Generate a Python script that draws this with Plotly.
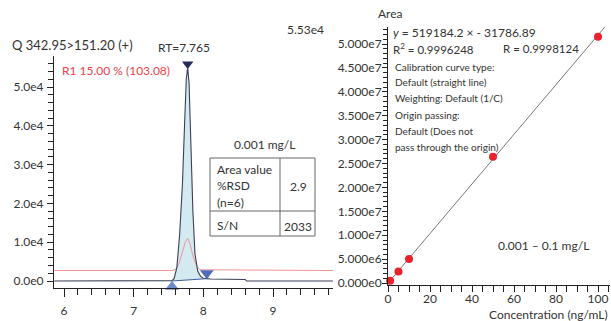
import plotly.graph_objects as go

W, H = 611, 321
FONT = "Lato"
TXT = "#333333"

# ---------------- data: chromatogram (left) ----------------
chrom_t = [5.86, 7.50, 7.55, 7.58, 7.62, 7.66, 7.70, 7.73, 7.755, 7.775, 7.795,
           7.82, 7.85, 7.88, 7.92, 7.96, 8.00, 8.05, 8.10, 8.60, 8.62, 9.86]
chrom_i = [0, 0, 100, 600, 3500, 12000, 25000, 40000, 52000, 55000, 51000,
           36000, 18000, 7000, 2500, 1200, 700, 600, 500, 400, 0, 0]

ref_t = [5.86, 7.55, 7.60, 7.65, 7.70, 7.74, 7.775, 7.81, 7.85, 7.90, 7.95, 9.86]
ref_i = [2700, 2700, 3000, 4500, 7500, 10000, 11000, 9500, 6500, 4000, 2900, 2700]

base_t = [7.55, 8.05]
base_i = [0, 600]

apex_t, apex_i = [7.775], [55900]
start_t, start_i = [7.55], [-1500]
end_t, end_i = [8.05], [2000]

left_ytick_vals = [0, 10000, 20000, 30000, 40000, 50000]
left_ytick_text = ["0.0e0", "1.0e4", "2.0e4", "3.0e4", "4.0e4", "5.0e4"]
left_xtick_vals = [6, 7, 8, 9]

# ---------------- data: calibration (right) ----------------
conc = [1, 5, 10, 50, 100]
area = [0.49e6, 2.4e6, 5.05e6, 2.64e7, 5.15e7]
slope, intercept = 519184.2, -31786.89
fit_x = [0, 105.7]

right_ytick_vals = [0, 5e6, 1e7, 1.5e7, 2e7, 2.5e7, 3e7, 3.5e7, 4e7, 4.5e7, 5e7]
right_ytick_text = ["0.000e0", "5.000e6", "1.000e7", "1.500e7", "2.000e7", "2.500e7",
                    "3.000e7", "3.500e7", "4.000e7", "4.500e7", "5.000e7"]
right_xtick_vals = [0, 20, 40, 60, 80, 100]

# ---------------- figure ----------------
fig = go.Figure()

# filled peak area between trace and baseline
peak_seg = [(t, i) for t, i in zip(chrom_t, chrom_i) if base_t[0] <= t <= base_t[1]]
poly_t = [p[0] for p in peak_seg] + base_t[::-1]
poly_i = [p[1] for p in peak_seg] + base_i[::-1]
fig.add_trace(go.Scatter(x=poly_t, y=poly_i, fill="toself", fillcolor="#d3eaf1",
                         line=dict(width=0), mode="lines", hoverinfo="skip",
                         xaxis="x", yaxis="y"))
fig.add_trace(go.Scatter(x=ref_t, y=ref_i, mode="lines",
                         line=dict(color="#f29494", width=1), xaxis="x", yaxis="y"))
fig.add_trace(go.Scatter(x=chrom_t, y=chrom_i, mode="lines",
                         line=dict(color="#3a3f55", width=1.1), xaxis="x", yaxis="y"))
fig.add_trace(go.Scatter(x=base_t, y=base_i, mode="lines",
                         line=dict(color="#3f5f9a", width=1), xaxis="x", yaxis="y"))
fig.add_trace(go.Scatter(x=apex_t, y=apex_i, mode="markers",
                         marker=dict(symbol="triangle-down", size=10, color="#262a5c"),
                         xaxis="x", yaxis="y", cliponaxis=False))
fig.add_trace(go.Scatter(x=start_t, y=start_i, mode="markers",
                         marker=dict(symbol="triangle-up", size=12, color="#6f8ccc"),
                         xaxis="x", yaxis="y", cliponaxis=False))
fig.add_trace(go.Scatter(x=end_t, y=end_i, mode="markers",
                         marker=dict(symbol="triangle-down", size=12, color="#4e6cb8"),
                         xaxis="x", yaxis="y", cliponaxis=False))

# calibration
fig.add_trace(go.Scatter(x=fit_x, y=[slope * x + intercept for x in fit_x], mode="lines",
                         line=dict(color="#555555", width=0.8), xaxis="x2", yaxis="y2"))
fig.add_trace(go.Scatter(x=conc, y=area, mode="markers",
                         marker=dict(color="#e8232b", size=8), xaxis="x2", yaxis="y2",
                         cliponaxis=False))


def px(x):
    return x / W


def py(y):
    return 1 - y / H


axis_common = dict(showline=True, linecolor="#222222", linewidth=1, ticks="outside",
                   tickcolor="#222222", showgrid=False, zeroline=False, automargin=False,
                   tickfont=dict(family=FONT, size=12, color=TXT))

fig.update_layout(
    width=W, height=H, margin=dict(l=0, r=0, t=0, b=0, pad=0, autoexpand=False),
    paper_bgcolor="white", plot_bgcolor="white", showlegend=False,
    font=dict(family=FONT, color=TXT),
    xaxis=dict(axis_common, domain=[px(54), px(333)], range=[5.8565, 9.861],
               tickvals=left_xtick_vals, ticklen=8, ticklabelstandoff=4,
               minor=dict(ticks="outside", dtick=0.2, ticklen=6, tickcolor="#222222"),
               anchor="y"),
    yaxis=dict(axis_common, domain=[py(288), py(56)], range=[-1804, 57990],
               tickvals=left_ytick_vals, ticktext=left_ytick_text, ticklen=6,
               ticklabelstandoff=1,
               minor=dict(ticks="outside", dtick=2000, ticklen=5, tickcolor="#222222"),
               anchor="x"),
    xaxis2=dict(axis_common, domain=[px(388), px(610)], range=[0, 105.7],
                tickvals=right_xtick_vals, ticklen=6, ticklabelstandoff=-3,
                minor=dict(ticks="outside", dtick=5, ticklen=6, tickcolor="#222222"),
                anchor="y2"),
    yaxis2=dict(axis_common, domain=[py(284.5), py(27)], range=[-3.1e5, 5.356e7],
                tickvals=right_ytick_vals, ticktext=right_ytick_text, ticklen=5,
                ticklabelstandoff=-2,
                minor=dict(ticks="outside", dtick=1e6, ticklen=4, tickcolor="#222222"),
                anchor="x2"),
)

anns = []


def ann(text, x, y, anchor="left", size=12, color=TXT):
    anns.append(dict(text=text, x=px(x), y=py(y), xref="paper", yref="paper",
                     xanchor=anchor, yanchor="middle", showarrow=False,
                     font=dict(family=FONT, size=size, color=color)))


# left panel text
ann("Q 342.95&gt;151.20 (+)", 10, 45, size=13)
ann("RT=7.765", 184, 47, "center")
ann("5.53e4", 305, 29, "center")
ann("R1 15.00 % (103.08)", 60, 70, color="#e8434a")
ann("0.001 mg/L", 264, 144, "center")
ann("Area value", 215, 170)
ann("%RSD", 215, 186)
ann("(n=6)", 215, 202)
ann("2.9", 298, 187, "center")
ann("S/N", 215, 225)
ann("2033", 298, 226, "center")

# right panel text
ann("Area", 390, 13, "center")
ann("<i>y</i> = 519184.2 × - 31786.89", 391, 32, size=12)
ann("R<sup>2</sup> = 0.9996248", 391, 48, size=11.5)
ann("R = 0.9998124", 501, 48, size=11.5)
small = ["Calibration curve type:", "Default (straight line)", "Weighting: Default (1/C)",
         "Origin passing:", "Default (Does not", "pass through the origin)"]
for s, yy in zip(small, [67, 82, 98, 115, 131, 147]):
    ann(s, 393, yy, size=10)
ann("0.001 – 0.1 mg/L", 496, 245)
ann("Concentration (ng/mL)", 610, 314, "right")

fig.update_layout(annotations=anns)

# table
LC = "#666666"
shapes = [
    dict(type="rect", xref="paper", yref="paper", x0=px(210), x1=px(315),
         y0=py(236), y1=py(158), line=dict(color=LC, width=1)),
    dict(type="line", xref="paper", yref="paper", x0=px(280), x1=px(280),
         y0=py(236), y1=py(158), line=dict(color=LC, width=1)),
    dict(type="line", xref="paper", yref="paper", x0=px(210), x1=px(315),
         y0=py(211), y1=py(211), line=dict(color=LC, width=1)),
]
fig.update_layout(shapes=shapes)

fig.write_html("out.html", config={"displayModeBar": False},
               post_script="document.body.style.margin='0';document.body.style.padding='0';")
